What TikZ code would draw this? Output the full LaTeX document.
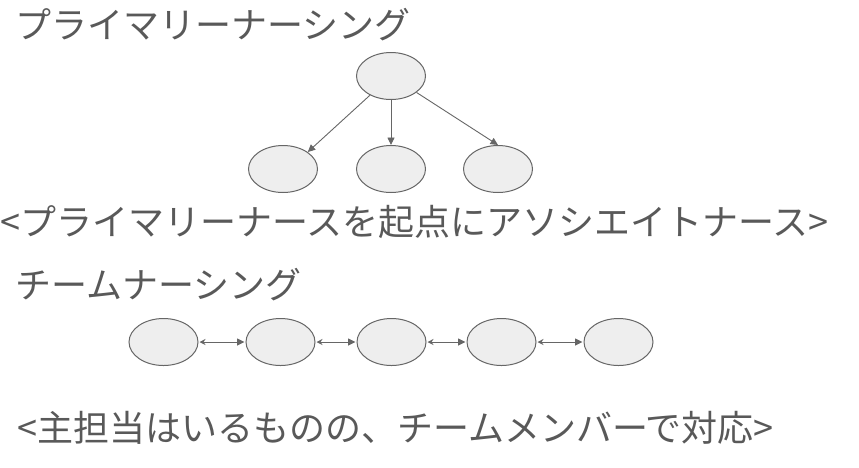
\documentclass[tikz,border=0pt]{standalone}
\usepackage{fontspec}
\setmainfont{Noto Sans CJK JP}
\usetikzlibrary{arrows.meta}
\definecolor{txt}{HTML}{595959}
\definecolor{edge}{HTML}{666666}
\definecolor{fillc}{HTML}{EEEEEE}
\tikzset{
  nurse/.style={ellipse, draw=edge, fill=fillc, line width=1pt, minimum width=69pt, minimum height=47pt, inner sep=0pt},
  lbl/.style={anchor=west, text=txt, font=\fontsize{36}{40}\selectfont, inner sep=0pt},
  lead/.style={draw=edge, line width=0.9pt, -{Triangle[length=7.5pt,width=7pt]}},
  mutual/.style={draw=edge, line width=0.9pt, {Stealth[length=6pt,width=6pt,inset=2pt]}-{Triangle[length=7.5pt,width=7pt]}, shorten <=1pt, shorten >=1pt}
}
\usetikzlibrary{shapes.geometric}
\begin{document}
\begin{tikzpicture}[x=1pt,y=-1pt]
\useasboundingbox (0,0) rectangle (859,467);
\node[lbl] (t1) at (15,25) {プライマリーナーシング};
\node[nurse] (p) at (391,76) {};
\node[nurse] (a1) at (283,169) {};
\node[nurse] (a2) at (391,169) {};
\node[nurse] (a3) at (498,169) {};
\draw[lead] (p) -- (a1.north east);
\draw[lead] (p) -- (a2);
\draw[lead] (p) -- (a3.north);
\node[lbl] (t2) at (0,222) {<プライマリーナースを起点にアソシエイトナース>};
\node[lbl] (t3) at (15,285) {チームナーシング};
\node[nurse] (c1) at (163.5,342) {};
\node[nurse] (c2) at (280.5,342) {};
\node[nurse] (c3) at (391.5,342) {};
\node[nurse] (c4) at (501.5,342) {};
\node[nurse] (c5) at (618.5,342) {};
\draw[mutual] (c1) -- (c2);
\draw[mutual] (c2) -- (c3);
\draw[mutual] (c3) -- (c4);
\draw[mutual] (c4) -- (c5);
\node[lbl] (t4) at (17,428) {<主担当はいるものの、チームメンバーで対応>};
\end{tikzpicture}
\end{document}
